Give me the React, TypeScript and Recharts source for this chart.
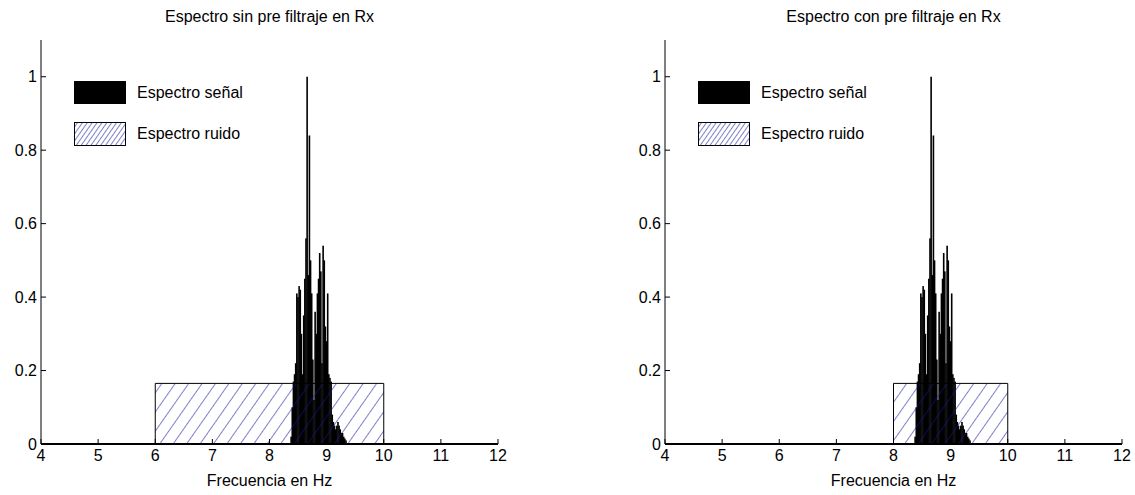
import { ComposedChart, Bar, XAxis, YAxis, ReferenceArea } from "recharts";

// Received spectrum, sampled every 0.02 Hz around the 8.7 Hz carrier.
const spectrumFreqs = [
  8.38, 8.4, 8.42, 8.44, 8.46, 8.48, 8.5, 8.52, 8.54, 8.56, 8.58, 8.6, 8.62, 8.64,
  8.66, 8.68, 8.7, 8.72, 8.74, 8.76, 8.78, 8.8, 8.82, 8.84, 8.86, 8.88, 8.9, 8.92,
  8.94, 8.96, 8.98, 9.0, 9.02, 9.04, 9.06, 9.08, 9.1, 9.12, 9.14, 9.16, 9.18, 9.2,
  9.22, 9.24, 9.26, 9.28, 9.3, 9.32, 9.34,
];
const spectrumLevels = [
  0.02, 0.1, 0.17, 0.19, 0.22, 0.41, 0.4, 0.43, 0.42, 0.3, 0.19, 0.35, 0.45, 0.56,
  1.0, 0.46, 0.84, 0.5, 0.41, 0.23, 0.12, 0.36, 0.3, 0.41, 0.45, 0.52, 0.47, 0.22,
  0.54, 0.5, 0.32, 0.28, 0.41, 0.19, 0.18, 0.17, 0.08, 0.06, 0.05, 0.04, 0.05, 0.06,
  0.05, 0.04, 0.03, 0.03, 0.02, 0.015, 0.01,
];

// Noise band (flat) for each receiver: without and with the pre-filter.
const panelTitles = ["Espectro sin pre filtraje en Rx", "Espectro con pre filtraje en Rx"];
const noiseFrom = [6, 8];
const noiseTo = [10, 10];
const noiseLevel = 0.165;

const xTicks = [4, 5, 6, 7, 8, 9, 10, 11, 12];
const yTicks = [0, 0.2, 0.4, 0.6, 0.8, 1];
const legendLabels = ["Espectro señal", "Espectro ruido"];
const xLabel = "Frecuencia en Hz";

const rows = spectrumFreqs.map((f, i) => ({ f, level: spectrumLevels[i] }));

const FONT = "'Liberation Sans', Arial, Helvetica, sans-serif";
const FS = 16;
const HATCH = "#16169a";
const PLOT_TOP = 40;
const PLOT_BOTTOM = 444;
const AXIS_W = 41;

interface PanelProps {
  idx: number;
  left: number;
  width: number;
  rightGap: number;
}

function HatchPattern({ id, step }: { id: string; step: number }) {
  return (
    <pattern id={id} width={step} height={step} patternUnits="userSpaceOnUse" patternTransform="rotate(35)">
      <line x1={0} y1={0} x2={0} y2={step} stroke={HATCH} strokeWidth={1.1} />
    </pattern>
  );
}

// Spectral lines are thinner than a pixel, so widen each one a little
// to keep the stem mass solid black like a stem/bar plot.
function SpectralLine(props: any) {
  const { x, y, width, height } = props;
  if (!height || height <= 0) return null;
  const cx = x + width / 2;
  return <rect x={cx - 0.8} y={y} width={1.6} height={height} fill="#000" />;
}

// Patch-style legend in the upper left corner of each axes.
function LegendBox({ idx }: { idx: number }) {
  return (
    <svg width={220} height={80} style={{ position: "absolute", left: AXIS_W + 33, top: 78, overflow: "visible" }}>
      <defs>
        <HatchPattern id={`leg-hatch-${idx}`} step={4} />
      </defs>
      <rect x={0} y={3} width={52} height={23} fill="#000" />
      <text x={63} y={20} fontFamily={FONT} fontSize={FS} fill="#000">
        {legendLabels[0]}
      </text>
      <rect x={0.5} y={44.5} width={51} height={23} fill="#fff" stroke="#000" />
      <rect x={0.5} y={44.5} width={51} height={23} fill={`url(#leg-hatch-${idx})`} />
      <text x={63} y={61} fontFamily={FONT} fontSize={FS} fill="#000">
        {legendLabels[1]}
      </text>
    </svg>
  );
}

function SpectrumPanel({ idx, left, width, rightGap }: PanelProps) {
  const plotW = width - AXIS_W - rightGap;
  return (
    <div style={{ position: "absolute", left, top: 0, width, height: 495 }}>
      <div
        style={{
          position: "absolute",
          left: AXIS_W,
          width: plotW,
          top: 7,
          lineHeight: "20px",
          textAlign: "center",
          fontFamily: FONT,
          fontSize: FS,
          color: "#000",
        }}
      >
        {panelTitles[idx]}
      </div>
      <ComposedChart
        width={width}
        height={495}
        data={rows}
        margin={{ top: PLOT_TOP, right: rightGap, bottom: 0, left: 0 }}
      >
        <defs>
          <HatchPattern id={`hatch-${idx}`} step={11} />
        </defs>
        <XAxis
          xAxisId="b"
          dataKey="f"
          type="number"
          domain={[4, 12]}
          ticks={xTicks}
          height={495 - PLOT_BOTTOM}
          axisLine={{ stroke: "#000", strokeWidth: 2 }}
          tickLine={{ stroke: "#000" }}
          tickSize={-5}
          tickMargin={11}
          tick={{ fill: "#000", fontSize: FS, fontFamily: FONT }}
          label={{ value: xLabel, position: "insideBottom", offset: 9, fill: "#000", fontSize: FS, fontFamily: FONT }}
        />
        <XAxis
          xAxisId="t"
          orientation="top"
          type="number"
          domain={[4, 12]}
          ticks={xTicks}
          height={0}
          stroke="#000"
          tickSize={-5}
          tick={false}
        />
        <YAxis
          yAxisId="l"
          type="number"
          domain={[0, 1.1]}
          ticks={yTicks}
          width={AXIS_W}
          stroke="#000"
          tickSize={-5}
          tickMargin={9}
          tick={{ fill: "#000", fontSize: FS, fontFamily: FONT }}
        />
        <YAxis
          yAxisId="r"
          orientation="right"
          type="number"
          domain={[0, 1.1]}
          ticks={yTicks}
          width={0}
          stroke="#000"
          tickSize={-5}
          tick={false}
        />
        <Bar
          xAxisId="b"
          yAxisId="l"
          dataKey="level"
          fill="#000"
          barSize={1}
          shape={SpectralLine}
          isAnimationActive={false}
        />
        <ReferenceArea
          xAxisId="b"
          yAxisId="l"
          x1={noiseFrom[idx]}
          x2={noiseTo[idx]}
          y1={0}
          y2={noiseLevel}
          fill={`url(#hatch-${idx})`}
          fillOpacity={1}
          stroke="#000"
          strokeWidth={1}
          zIndex={400}
        />
      </ComposedChart>
      <LegendBox idx={idx} />
    </div>
  );
}

export default function App() {
  return (
    <div style={{ position: "absolute", left: 0, top: 0, width: 1135, height: 495, background: "#fff", overflow: "hidden" }}>
      <SpectrumPanel idx={0} left={0} width={520} rightGap={22} />
      <SpectrumPanel idx={1} left={624} width={511} rightGap={13} />
    </div>
  );
}
